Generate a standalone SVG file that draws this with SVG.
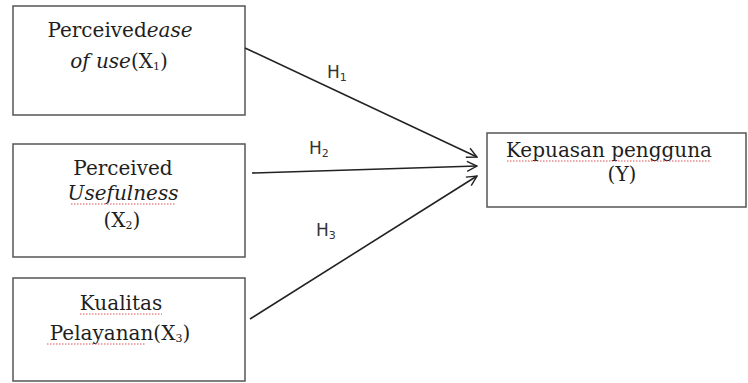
<svg xmlns="http://www.w3.org/2000/svg" width="748" height="383" viewBox="0 0 748 383">
<style>
.box{fill:#fff;stroke:#555;stroke-width:1.5}
.t{font-family:'DejaVu Serif','Liberation Serif',serif;font-size:20px;fill:#1e1e1e;text-anchor:middle}
.ty{font-family:'DejaVu Serif','Liberation Serif',serif;font-size:20px;fill:#1e1e1e;text-anchor:middle}
.h{font-family:'DejaVu Sans','Liberation Sans',sans-serif;font-size:17px;fill:#333}
.sub{font-size:11px}
.c{stroke:#222;stroke-width:1.6;fill:none}
.w{stroke:#e05050;stroke-width:1;fill:none;stroke-dasharray:1.5 1.5}
</style>
<defs>
<marker id="arr" viewBox="0 0 12 12" refX="11" refY="6" markerWidth="12" markerHeight="12" markerUnits="userSpaceOnUse" orient="auto">
<path d="M1,1 L11,6 L1,11" fill="none" stroke="#222" stroke-width="1.4"/>
</marker>
</defs>
<rect width="748" height="383" fill="#fff"/>
<g id="x1">
<rect class="box" x="13" y="6" width="232" height="109"/>
<text class="t" x="120" y="37">Perceived<tspan font-style="italic">ease</tspan></text>
<text class="t" x="119" y="68"><tspan font-style="italic">of use</tspan>(X<tspan class="sub" dy="2">1</tspan><tspan dy="-2">)</tspan></text>
</g>
<g id="x2">
<rect class="box" x="13" y="144" width="232" height="113"/>
<text class="t" x="123" y="175">Perceived</text>
<text class="t" x="123" y="200" font-style="italic">Usefulness</text>
<path class="w" d="M71,204 L175,204"/>
<text class="t" x="122" y="227">(X<tspan class="sub" dy="2">2</tspan><tspan dy="-2">)</tspan></text>
</g>
<g id="x3">
<rect class="box" x="13" y="278" width="232" height="103"/>
<text class="t" x="121" y="310">Kualitas</text>
<path class="w" d="M80,314 L162,314"/>
<text class="t" x="120" y="340">Pelayanan(X<tspan class="sub" dy="2">3</tspan><tspan dy="-2">)</tspan></text>
<path class="w" d="M47,344 L146,344"/>
</g>
<g id="y">
<rect class="box" x="487" y="133" width="259" height="74"/>
<text class="ty" x="609" y="157">Kepuasan pengguna</text>
<path class="w" d="M507,161 L711,161"/>
<text class="ty" x="622" y="181">(Y)</text>
</g>
<g id="connectors">
<line class="c" x1="245" y1="48" x2="477" y2="157" marker-end="url(#arr)"/>
<line class="c" x1="252" y1="173" x2="477" y2="166" marker-end="url(#arr)"/>
<line class="c" x1="250" y1="319" x2="477" y2="176" marker-end="url(#arr)"/>
<text class="h" x="327" y="78">H<tspan class="sub" dy="3">1</tspan></text>
<text class="h" x="309" y="154">H<tspan class="sub" dy="3">2</tspan></text>
<text class="h" x="316" y="236">H<tspan class="sub" dy="3">3</tspan></text>
</g>
</svg>
